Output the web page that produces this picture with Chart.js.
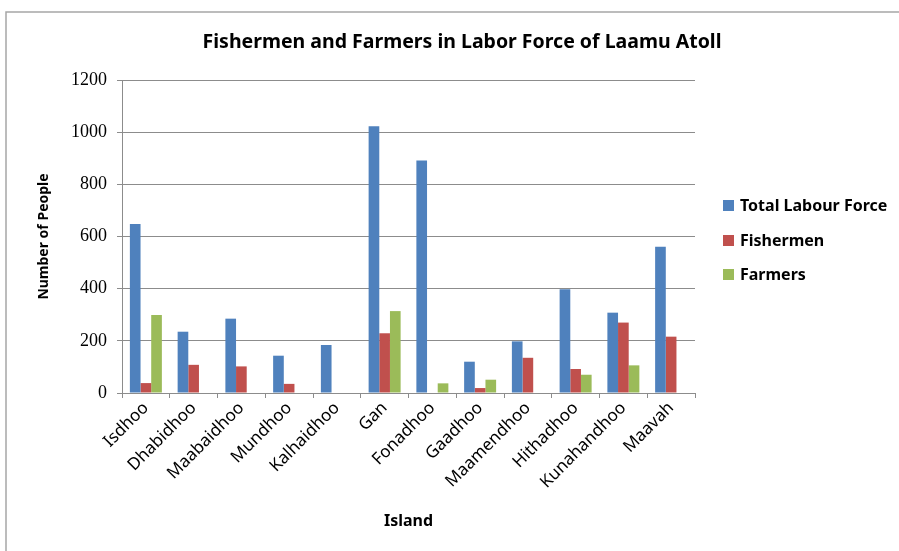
<!DOCTYPE html>
<html>
<head>
<meta charset="utf-8">
<script src="https://cdn.jsdelivr.net/npm/chart.js@4.4.1/dist/chart.umd.min.js"></script>
<style>
  html, body { margin: 0; padding: 0; background: #fff; }
  #wrap { width: 899px; height: 551px; }
</style>
</head>
<body>
<div id="wrap"><canvas id="myChart" width="899" height="551"></canvas></div>
<script>
const islands = ['Isdhoo', 'Dhabidhoo', 'Maabaidhoo', 'Mundhoo', 'Kalhaidhoo', 'Gan',
  'Fonadhoo', 'Gaadhoo', 'Maamendhoo', 'Hithadhoo', 'Kunahandhoo', 'Maavah'];
const totalLabour = [648, 235, 285, 143, 184, 1023, 891, 120, 198, 398, 308, 561];
const fishermen = [38, 108, 102, 35, 0, 229, 0, 19, 135, 92, 270, 216];
const farmers = [299, 0, 0, 0, 0, 314, 37, 51, 0, 70, 106, 0];
const seriesNames = ['Total Labour Force', 'Fishermen', 'Farmers'];
const yTicks = [0, 200, 400, 600, 800, 1000, 1200];
const chartTitle = 'Fishermen and Farmers in Labor Force of Laamu Atoll';

const colors = ['#4F81BD', '#C0504D', '#9BBB59'];
const gridColor = '#8c8c8c';

// frame round the chart, like the Excel chart area border, plus the title
const framePlugin = {
  id: 'frame',
  beforeDraw(chart) {
    const ctx = chart.ctx;
    ctx.save();
    ctx.fillStyle = '#fff';
    ctx.fillRect(0, 0, chart.width, chart.height);
    ctx.strokeStyle = '#a6a6a6';
    ctx.lineWidth = 1.5;
    ctx.beginPath();
    ctx.moveTo(6, chart.height);
    ctx.lineTo(6, 12);
    ctx.lineTo(chart.width, 12);
    ctx.stroke();
    ctx.fillStyle = '#000';
    ctx.font = 'bold 19.5px "Noto Sans"';
    ctx.textAlign = 'center';
    ctx.textBaseline = 'middle';
    ctx.fillText(chartTitle, 462, 42);
    ctx.restore();
  }
};

// legend on the right, drawn from the datasets
const sideLegend = {
  id: 'sideLegend',
  afterDraw(chart) {
    const ctx = chart.ctx;
    const rows = [205, 240, 274];
    ctx.save();
    ctx.font = 'bold 16px "Noto Sans"';
    ctx.textBaseline = 'middle';
    chart.data.datasets.forEach(function(ds, i) {
      ctx.fillStyle = ds.backgroundColor;
      ctx.fillRect(723, rows[i] - 5, 11, 11);
      ctx.fillStyle = '#000';
      ctx.fillText(ds.label, 740, rows[i] + 1);
    });
    ctx.restore();
  }
};

const myChart = new Chart('myChart', {
  type: 'bar',
  data: {
    labels: islands,
    datasets: [
      { label: seriesNames[0], data: totalLabour, backgroundColor: colors[0] },
      { label: seriesNames[1], data: fishermen, backgroundColor: colors[1] },
      { label: seriesNames[2], data: farmers, backgroundColor: colors[2] }
    ]
  },
  options: {
    responsive: false,
    maintainAspectRatio: false,
    animation: false,
    datasets: {
      bar: { categoryPercentage: 0.67, barPercentage: 1.0 }
    },
    layout: { padding: { left: 36, right: 204, top: 80, bottom: 20 } },
    scales: {
      x: {
        grid: {
          offset: true,
          drawOnChartArea: false,
          drawTicks: true,
          tickLength: 5,
          color: gridColor
        },
        border: { color: gridColor },
        ticks: {
          minRotation: 45,
          maxRotation: 45,
          padding: 0,
          color: '#000',
          font: { family: 'Noto Sans', size: 17 }
        },
        title: {
          display: true,
          text: 'Island',
          color: '#000',
          padding: { top: 0, bottom: 0 },
          font: { family: 'Noto Sans', size: 16, weight: 'bold' }
        },
        afterFit(scale) { scale.height = 138; }
      },
      y: {
        min: 0,
        max: 1200,
        afterBuildTicks(scale) { scale.ticks = yTicks.map(v => ({ value: v })); },
        grid: { color: gridColor, tickLength: 5 },
        border: { color: gridColor },
        ticks: {
          padding: 10,
          color: '#000',
          font: { family: 'Liberation Serif', size: 18 },
          callback: function(value) { return String(value); }
        },
        title: {
          display: true,
          text: 'Number of People',
          color: '#000',
          padding: { top: 0, bottom: 0 },
          font: { family: 'Noto Sans', size: 14, weight: 'bold' }
        },
        afterFit(scale) { scale.width = 86; }
      }
    },
    plugins: {
      legend: { display: false },
      tooltip: { enabled: false },
      title: { display: false }
    }
  },
  plugins: [framePlugin, sideLegend]
});
</script>
</body>
</html>
